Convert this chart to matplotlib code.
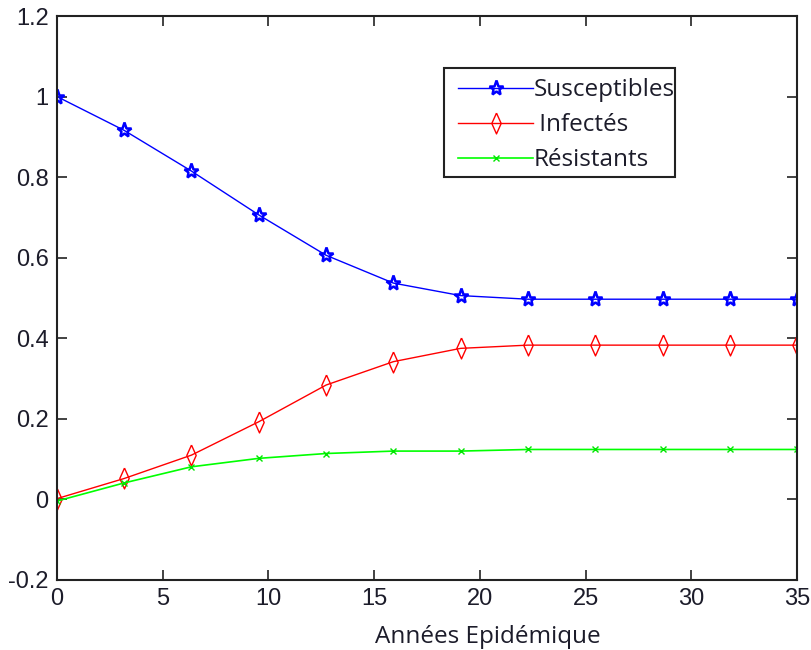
import matplotlib
matplotlib.use("Agg")
import matplotlib.pyplot as plt
from matplotlib.patches import Rectangle
import numpy as np

# data
years = [0, 3.18, 6.36, 9.55, 12.73, 15.91, 19.09, 22.27, 25.45, 28.64, 31.82, 35]
susceptibles = [1.0, 0.916, 0.815, 0.706, 0.606, 0.537, 0.506, 0.497, 0.497, 0.497, 0.497, 0.497]
infectes = [0.002, 0.052, 0.11, 0.193, 0.284, 0.342, 0.375, 0.383, 0.383, 0.383, 0.383, 0.383]
resistants = [-0.004, 0.041, 0.081, 0.102, 0.114, 0.120, 0.120, 0.124, 0.124, 0.124, 0.124, 0.124]
labels = ["Susceptibles", " Infectés", "Résistants"]
xticks = [0, 5, 10, 15, 20, 25, 30, 35]
yticks = [-0.2, 0, 0.2, 0.4, 0.6, 0.8, 1.0, 1.2]
ytick_labels = ["-0.2", "0", "0.2", "0.4", "0.6", "0.8", "1", "1.2"]
xlabel = "Années Epidémique"

W, H = 811, 650
fig = plt.figure(figsize=(W / 100, H / 100), dpi=100)
ax = fig.add_axes([57 / W, 1 - 580 / H, (797 - 57) / W, (580 - 16) / H])

thin_diamond = [(0, 1), (0.45, 0), (0, -1), (-0.45, 0), (0, 1)]

ax.plot(years, susceptibles, color=(0, 0, 1), lw=1.0, marker="*", ms=11,
        mfc="none", mec=(0, 0, 1), mew=1.8, label=labels[0])
ax.plot(years, infectes, color=(1, 0, 0), lw=1.0, marker=thin_diamond, ms=15,
        mfc="none", mec=(1, 0, 0), mew=1.0, label=labels[1])
ax.plot(years, resistants, color=(0, 1, 0), lw=1.2, marker="x", ms=5,
        mfc="none", mec=(0, 0.9, 0), mew=1.0, label=labels[2])

ax.set_xlim(0, 35)
ax.set_ylim(-0.2, 1.2)
ax.set_xticks(xticks)
ax.set_xticklabels([str(t) for t in xticks])
ax.set_yticks(yticks)
ax.set_yticklabels(ytick_labels)

for lab in ax.get_xticklabels() + ax.get_yticklabels():
    lab.set_fontfamily("Liberation Sans")
    lab.set_fontsize(17)
    lab.set_color("#1c1c2a")

ax.tick_params(direction="in", length=7, width=1.2, top=True, right=True,
               pad=6, colors="#222222", labelcolor="#1c1c2a")
for s in ax.spines.values():
    s.set_linewidth(1.5)
    s.set_color("#222222")

ax.set_xlabel(xlabel, fontfamily="Open Sans", fontsize=17.5, color="#1c1c2a")
ax.xaxis.label.set_va("baseline")
ax.xaxis.set_label_coords((488 - 57) / 740, (580 - 643) / 564)

leg = ax.legend(loc="upper left", bbox_to_anchor=(458 / W, 1 - 78.5 / H),
                bbox_transform=fig.transFigure, borderaxespad=0,
                prop={"family": "Open Sans", "size": 17.5}, frameon=False,
                handlelength=3.1, handletextpad=0.0, labelspacing=0.45,
                borderpad=0)
for t in leg.get_texts():
    t.set_color("#1c1c2a")

fig.add_artist(Rectangle((444 / W, 1 - 177 / H), (675 - 444) / W, (177 - 68) / H,
                         transform=fig.transFigure, fill=True, facecolor="none",
                         edgecolor="#222222", linewidth=1.5, zorder=10))

fig.savefig("out.png", dpi=100)
